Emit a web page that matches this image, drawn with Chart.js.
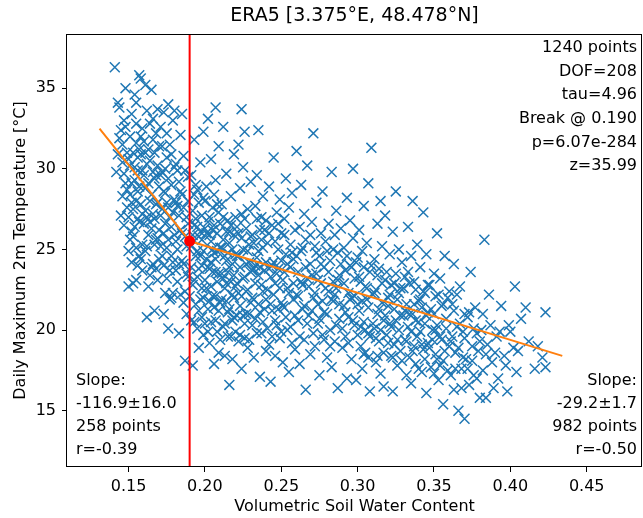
<!DOCTYPE html>
<html>
<head>
<meta charset="utf-8">
<script src="https://cdn.jsdelivr.net/npm/chart.js@4.4.1/dist/chart.umd.min.js"></script>
<style>
  html, body { margin: 0; padding: 0; background: #fff; }
  #wrap { width: 643px; height: 518px; }
</style>
</head>
<body>
<div id="wrap"><canvas id="chart" width="643" height="518"></canvas></div>
<script>
// ── Data ─────────────────────────────────────────────────────────────
// [soil water content, daily max temperature]
const samples = [
  [0.141,36.3],[0.143,34.1],[0.144,31.9],[0.146,30.4],[0.147,33.0],[0.148,29.1],[0.149,27.6],[0.145,32.4],[0.148,35.0],[0.149,31.0],
  [0.142,29.8],[0.147,26.5],[0.150,24.9],[0.146,28.3],[0.144,33.8],
  [0.151,30.2],[0.152,27.9],[0.152,33.4],[0.153,25.8],[0.154,29.3],[0.155,31.6],[0.155,23.1],[0.156,28.6],[0.157,35.8],[0.157,26.7],
  [0.158,30.9],[0.158,24.4],[0.159,32.5],[0.159,27.2],[0.153,22.9],[0.154,34.6],[0.156,29.9],[0.157,31.2],[0.151,28.4],[0.158,35.6],
  [0.159,25.3],[0.160,29.6],[0.152,26.1],[0.155,32.8],[0.156,24.0],
  [0.161,31.0],[0.161,27.4],[0.162,33.6],[0.162,25.2],[0.163,29.1],[0.163,22.7],[0.164,30.5],[0.164,28.0],[0.165,34.9],[0.165,26.3],
  [0.166,31.8],[0.166,24.1],[0.167,29.4],[0.167,21.2],[0.168,27.8],[0.168,32.2],[0.169,25.7],[0.169,30.2],[0.170,28.9],[0.162,20.8],
  [0.164,23.4],[0.166,33.1],[0.167,26.9],[0.168,23.8],[0.170,31.4],
  [0.171,27.1],[0.171,32.6],[0.172,24.6],[0.172,29.8],[0.173,26.0],[0.173,33.5],[0.174,22.3],[0.174,28.5],[0.175,30.7],[0.175,25.1],
  [0.176,27.6],[0.176,20.1],[0.177,31.5],[0.177,23.7],[0.178,29.0],[0.178,26.4],[0.179,24.2],[0.179,33.0],[0.180,28.1],[0.173,21.0],
  [0.176,34.0],[0.178,22.0],
  [0.181,30.3],[0.181,25.5],[0.182,27.7],[0.182,23.0],[0.183,29.2],[0.183,19.8],[0.184,26.2],[0.184,32.1],[0.185,24.3],[0.185,28.4],
  [0.186,21.7],[0.186,30.8],[0.187,25.8],[0.187,18.1],[0.188,27.0],[0.188,23.5],[0.189,29.5],[0.189,26.6],[0.185,33.4],[0.187,22.4],
  [0.143,30.9],[0.145,27.1],[0.146,31.5],[0.147,29.7],[0.148,32.6],[0.149,28.7],[0.150,30.6],[0.150,27.0],[0.151,25.6],[0.151,32.0],
  [0.152,29.1],[0.152,24.2],[0.153,31.0],[0.153,27.5],[0.154,26.4],[0.154,30.1],[0.155,28.0],[0.155,25.1],[0.156,30.7],[0.156,26.9],
  [0.157,28.9],[0.157,24.6],[0.158,32.0],[0.158,27.8],[0.159,29.9],[0.159,23.7],[0.160,26.6],[0.160,31.7],[0.161,28.8],[0.161,24.9],
  [0.162,30.3],[0.162,27.0],[0.163,25.9],[0.163,31.2],[0.164,26.7],[0.164,32.8],[0.165,28.4],[0.165,23.9],[0.166,27.2],[0.166,29.8],
  [0.167,25.3],[0.167,31.0],[0.168,29.6],[0.168,25.6],[0.169,27.9],[0.169,23.1],[0.170,26.2],[0.170,24.4],[0.171,29.6],[0.171,25.2],
  [0.172,27.5],[0.172,31.4],[0.173,28.6],[0.173,24.0],[0.174,26.6],[0.174,30.0],[0.175,23.2],[0.175,27.9],[0.176,25.6],[0.176,29.4],
  [0.177,27.0],[0.177,21.9],[0.178,24.6],[0.178,30.9],[0.179,27.3],[0.179,22.3],[0.180,25.9],[0.180,30.1],[0.181,23.7],[0.181,27.9],
  [0.182,25.0],[0.182,29.9],[0.183,24.1],[0.183,27.1],[0.184,22.2],[0.184,28.6],[0.185,26.0],[0.186,24.1],[0.186,27.6],[0.187,29.9],
  [0.188,21.0],[0.188,25.2],[0.189,23.3],[0.189,28.0],[0.155,34.1],[0.161,35.2],[0.169,33.7],[0.175,32.2],[0.180,33.6],[0.150,22.7],
  [0.191,25.2],[0.191,29.6],[0.192,22.8],[0.192,27.4],[0.193,31.8],[0.193,20.5],[0.194,24.6],[0.194,26.9],[0.195,23.3],[0.195,28.7],
  [0.196,18.9],[0.196,25.8],[0.197,30.4],[0.197,21.9],[0.198,27.1],[0.198,24.0],[0.199,32.3],[0.199,19.7],[0.200,26.3],[0.200,23.1],
  [0.192,17.8],[0.194,29.0],[0.196,21.2],[0.197,26.1],[0.198,22.6],[0.199,28.2],[0.195,24.9],[0.193,26.5],
  [0.190,22.1],[0.191,23.9],[0.191,20.6],[0.192,25.9],[0.193,23.1],[0.193,28.4],[0.194,21.6],[0.195,26.4],[0.195,20.1],[0.196,23.8],
  [0.196,27.9],[0.197,24.6],[0.198,20.8],[0.198,25.6],[0.199,22.0],[0.199,24.9],[0.200,20.4],[0.200,28.0],
  [0.201,24.4],[0.201,28.9],[0.202,21.3],[0.202,26.7],[0.203,19.2],[0.203,23.8],[0.204,30.6],[0.204,25.5],[0.205,22.1],[0.205,27.6],
  [0.206,17.9],[0.206,24.8],[0.207,29.3],[0.207,20.6],[0.208,26.0],[0.208,23.0],[0.209,31.4],[0.209,18.6],[0.210,25.1],[0.210,21.7],
  [0.202,33.1],[0.204,22.7],[0.205,26.2],[0.206,28.4],[0.207,23.6],[0.208,19.9],[0.209,27.3],[0.203,25.9],[0.207,33.8],
  [0.201,22.6],[0.201,26.0],[0.202,23.9],[0.202,19.9],[0.203,27.0],[0.203,21.8],[0.204,24.2],[0.204,20.5],[0.205,25.0],[0.205,23.6],
  [0.206,21.4],[0.206,26.5],[0.207,24.4],[0.207,22.1],[0.208,27.8],[0.208,24.9],[0.209,21.2],[0.209,23.5],[0.210,26.6],[0.210,19.4],
  [0.211,23.5],[0.211,27.8],[0.212,20.2],[0.212,25.6],[0.213,18.4],[0.213,22.6],[0.214,29.7],[0.214,24.3],[0.215,21.1],[0.215,26.8],
  [0.216,16.6],[0.216,23.9],[0.217,28.3],[0.217,19.6],[0.218,25.0],[0.218,22.2],[0.219,30.9],[0.219,20.8],[0.220,24.7],[0.220,27.0],
  [0.212,32.6],[0.214,21.8],[0.216,26.1],[0.218,18.2],[0.219,23.4],[0.215,24.8],
  [0.211,21.9],[0.211,25.1],[0.212,23.2],[0.212,27.0],[0.213,24.6],[0.213,20.4],[0.214,26.1],[0.214,22.9],[0.215,19.6],[0.215,23.6],
  [0.216,25.4],[0.216,21.3],[0.217,23.0],[0.217,26.5],[0.218,20.6],[0.218,24.1],[0.219,22.0],[0.219,25.9],[0.220,19.9],[0.220,22.7],
  [0.221,22.9],[0.221,26.4],[0.222,19.3],[0.222,24.6],[0.223,28.8],[0.223,21.5],[0.224,25.7],[0.224,17.6],[0.225,23.2],[0.225,30.1],
  [0.226,20.4],[0.226,26.9],[0.227,22.4],[0.227,24.1],[0.228,18.9],[0.228,27.5],[0.229,21.0],[0.229,25.3],[0.230,23.6],[0.230,29.2],
  [0.224,33.7],[0.226,19.5],[0.228,24.9],[0.222,31.5],[0.226,32.3],
  [0.221,24.6],[0.221,20.9],[0.222,26.0],[0.222,22.3],[0.223,23.9],[0.223,19.7],[0.224,22.1],[0.224,27.2],[0.225,25.0],[0.225,20.9],
  [0.226,23.3],[0.227,21.0],[0.227,26.3],[0.228,22.5],[0.229,24.2],[0.229,19.4],[0.230,21.7],[0.230,25.8],
  [0.231,22.0],[0.231,25.9],[0.232,18.3],[0.232,23.8],[0.233,27.7],[0.233,20.7],[0.234,24.5],[0.234,29.6],[0.235,21.6],[0.235,32.4],
  [0.236,17.1],[0.236,26.2],[0.237,22.8],[0.237,19.8],[0.238,25.1],[0.238,28.3],[0.239,21.3],[0.239,23.7],[0.240,26.8],[0.240,18.7],
  [0.233,24.0],[0.237,27.0],
  [0.231,23.7],[0.231,20.3],[0.232,25.4],[0.232,21.9],[0.233,22.9],[0.234,19.8],[0.234,26.9],[0.235,23.4],[0.235,24.9],[0.236,21.1],
  [0.236,23.9],[0.237,25.6],[0.238,20.5],[0.238,22.4],[0.239,26.2],[0.240,21.9],[0.240,24.2],
  [0.241,22.5],[0.241,25.4],[0.242,19.1],[0.242,28.9],[0.243,23.3],[0.243,16.8],[0.244,26.5],[0.244,21.2],[0.245,24.2],[0.245,30.7],
  [0.246,18.4],[0.246,22.9],[0.247,27.3],[0.247,20.3],[0.248,25.0],[0.248,23.8],[0.249,19.5],[0.249,28.1],[0.250,21.7],[0.250,26.0],
  [0.241,20.1],[0.242,23.8],[0.242,26.0],[0.243,21.6],[0.244,24.0],[0.244,19.6],[0.245,22.2],[0.246,25.5],[0.246,20.6],[0.247,23.5],
  [0.248,21.3],[0.248,26.6],[0.249,22.6],[0.250,24.3],[0.250,19.9],
  [0.251,23.1],[0.251,18.0],[0.252,26.9],[0.252,21.4],[0.253,24.7],[0.253,29.4],[0.254,20.0],[0.254,22.6],[0.255,27.6],[0.255,17.4],
  [0.256,25.3],[0.256,23.9],[0.257,19.2],[0.257,28.5],[0.258,21.9],[0.258,24.4],[0.259,26.2],[0.259,18.8],[0.260,22.2],[0.260,31.1],
  [0.251,21.5],[0.252,23.6],[0.252,25.9],[0.253,20.8],[0.254,24.1],[0.255,22.3],[0.256,20.2],[0.257,24.8],[0.258,22.9],[0.259,20.9],
  [0.260,24.6],
  [0.261,23.6],[0.261,20.6],[0.262,26.4],[0.262,17.9],[0.263,24.9],[0.263,29.0],[0.264,21.3],[0.264,22.8],[0.265,27.2],[0.265,19.4],
  [0.266,25.6],[0.266,16.3],[0.267,23.2],[0.267,30.2],[0.268,20.9],[0.269,24.1],[0.269,18.5],[0.270,26.7],
  [0.261,22.1],[0.262,19.6],[0.263,23.0],[0.264,25.1],[0.265,21.5],[0.266,23.9],[0.267,20.4],[0.268,22.7],[0.269,25.9],[0.270,21.2],
  [0.270,23.4],
  [0.271,22.0],[0.271,32.2],[0.272,25.2],[0.272,19.0],[0.273,23.5],[0.273,27.9],[0.274,20.4],[0.274,21.6],[0.275,24.6],[0.275,17.2],
  [0.276,26.0],[0.276,22.9],[0.277,19.7],[0.277,28.6],[0.278,23.9],[0.278,21.1],[0.279,25.5],[0.280,18.3],
  [0.271,19.8],[0.272,22.3],[0.273,24.8],[0.274,23.1],[0.275,20.7],[0.276,24.1],[0.277,21.8],[0.278,19.4],[0.279,22.6],[0.280,24.9],
  [0.280,21.0],
  [0.281,22.4],[0.281,26.6],[0.282,20.0],[0.282,24.3],[0.283,17.7],[0.283,29.8],[0.284,23.0],[0.284,21.8],[0.285,25.9],[0.285,19.3],
  [0.286,27.4],[0.286,22.6],[0.287,16.4],[0.287,24.8],[0.288,20.7],[0.288,23.4],[0.289,26.3],[0.290,18.9],
  [0.281,23.6],[0.282,19.0],[0.283,21.9],[0.284,25.0],[0.285,22.2],[0.286,20.3],[0.287,23.1],[0.288,21.6],[0.289,24.1],[0.290,20.1],
  [0.291,21.5],[0.291,25.1],[0.292,19.6],[0.292,23.7],[0.293,28.2],[0.293,17.0],[0.294,22.3],[0.294,20.8],[0.295,26.8],[0.295,24.0],
  [0.296,18.2],[0.296,22.0],[0.297,25.7],[0.297,30.0],[0.298,20.3],[0.298,23.2],[0.299,16.9],[0.300,24.5],
  [0.291,22.9],[0.292,21.1],[0.293,24.6],[0.294,19.2],[0.295,21.9],[0.296,23.9],[0.297,20.6],[0.298,22.1],[0.299,24.2],[0.300,19.7],
  [0.300,21.6],
  [0.301,21.2],[0.301,26.2],[0.302,19.0],[0.302,23.0],[0.303,24.9],[0.303,17.6],[0.304,27.7],[0.304,20.5],[0.305,22.7],[0.305,18.6],
  [0.306,25.4],[0.306,21.9],[0.307,29.1],[0.307,19.8],[0.308,23.6],[0.308,16.2],[0.309,31.3],[0.310,22.2],
  [0.301,23.3],[0.302,20.2],[0.303,21.8],[0.304,18.5],[0.304,23.9],[0.305,20.0],[0.306,22.6],[0.307,18.3],[0.307,21.4],[0.308,19.6],
  [0.309,24.0],[0.310,20.4],
  [0.311,20.1],[0.311,24.4],[0.312,18.0],[0.312,22.5],[0.313,26.6],[0.313,21.0],[0.314,19.3],[0.314,23.8],[0.315,28.0],[0.315,17.3],
  [0.316,21.7],[0.316,25.2],[0.317,20.6],[0.317,16.5],[0.318,23.1],[0.318,27.1],[0.319,19.7],[0.320,22.0],
  [0.311,22.3],[0.312,19.5],[0.313,23.4],[0.313,18.4],[0.314,21.3],[0.315,20.0],[0.316,22.9],[0.317,18.6],[0.318,20.9],[0.319,23.6],
  [0.320,19.2],[0.320,21.5],
  [0.321,20.4],[0.321,24.7],[0.322,18.4],[0.322,22.8],[0.323,26.1],[0.323,16.2],[0.324,21.3],[0.324,19.1],[0.325,23.5],[0.325,28.6],
  [0.326,17.8],[0.326,21.9],[0.327,25.0],[0.327,20.0],[0.328,22.6],[0.328,18.7],[0.329,24.2],[0.330,20.9],
  [0.321,22.2],[0.322,20.2],[0.323,18.3],[0.324,22.9],[0.325,20.6],[0.326,19.4],[0.327,22.3],[0.328,20.9],[0.329,18.1],[0.330,22.6],
  [0.331,19.4],[0.331,23.3],[0.332,17.2],[0.332,21.6],[0.333,26.4],[0.333,20.2],[0.334,22.9],[0.334,18.3],[0.335,24.6],[0.335,16.7],
  [0.336,21.0],[0.336,28.0],[0.337,19.0],[0.337,23.0],[0.338,20.6],[0.338,17.9],[0.339,25.3],[0.340,21.8],
  [0.331,21.2],[0.332,19.3],[0.333,23.6],[0.334,21.0],[0.335,19.9],[0.336,18.7],[0.337,21.6],[0.338,22.5],[0.339,19.6],[0.340,17.6],
  [0.340,20.5],
  [0.341,19.9],[0.341,23.9],[0.342,17.4],[0.342,21.4],[0.343,27.3],[0.343,18.8],[0.344,22.3],[0.344,20.4],[0.345,16.1],[0.345,24.7],
  [0.346,19.2],[0.346,21.1],[0.347,22.8],[0.348,17.7],[0.349,20.0],[0.350,23.5],
  [0.341,21.9],[0.342,19.1],[0.343,22.4],[0.344,18.2],[0.345,20.9],[0.346,22.8],[0.347,18.9],[0.348,21.3],[0.349,19.4],[0.350,17.3],
  [0.350,21.0],
  [0.351,18.5],[0.351,22.1],[0.352,20.3],[0.352,26.0],[0.353,16.9],[0.354,19.6],[0.354,23.2],[0.355,21.5],[0.356,15.4],[0.356,18.1],
  [0.357,24.6],[0.358,20.7],[0.359,17.5],[0.360,22.4],
  [0.351,20.0],[0.352,18.2],[0.353,22.2],[0.354,17.8],[0.355,19.4],[0.356,21.6],[0.357,18.7],[0.358,20.1],[0.359,22.0],[0.360,19.0],
  [0.361,19.3],[0.362,21.6],[0.363,16.3],[0.363,24.1],[0.364,18.6],[0.365,20.2],[0.366,15.0],[0.367,22.7],[0.368,17.6],[0.369,19.9],
  [0.370,14.5],[0.370,21.0],
  [0.361,17.2],[0.362,19.6],[0.363,21.2],[0.364,17.6],[0.365,22.2],[0.366,18.9],[0.367,20.4],[0.368,16.4],[0.369,18.3],[0.370,19.5],
  [0.371,18.2],[0.372,20.8],[0.373,16.6],[0.374,23.6],[0.375,19.0],[0.376,17.2],[0.377,21.4],[0.378,19.8],[0.379,18.7],[0.380,15.8],
  [0.372,17.6],[0.373,21.1],[0.375,18.1],[0.376,20.1],[0.378,17.0],[0.380,19.3],
  [0.381,20.0],[0.382,17.5],[0.383,25.6],[0.384,15.8],[0.385,19.1],[0.386,22.2],[0.388,18.0],[0.389,16.4],
  [0.382,21.0],[0.384,18.5],[0.387,20.3],
  [0.391,19.6],[0.392,17.0],[0.394,21.5],[0.396,18.4],[0.398,16.2],[0.399,20.3],
  [0.390,18.6],[0.393,19.9],[0.397,17.8],
  [0.402,18.9],[0.404,17.4],[0.407,20.7],[0.403,22.7],[0.412,19.3],[0.416,17.6],[0.423,21.1],[0.423,17.7],
  [0.400,19.9],[0.405,18.7],[0.410,21.4],[0.418,19.0],[0.421,18.3]
];

// piecewise fit, breakpoint at 0.190
const fitX = [0.131, 0.190, 0.434];
const fitY = [32.5, 25.52, 18.4];
const breakX = 0.190;
const breakY = 25.52;

const xTicks = [0.15, 0.20, 0.25, 0.30, 0.35, 0.40, 0.45];
const yTicks = [15, 20, 25, 30, 35];
const xRange = [0.1097, 0.4862];
const yRange = [11.51, 38.36];

const titleText = 'ERA5 [3.375°E, 48.478°N]';
const statsLines = ['1240 points', 'DOF=208', 'tau=4.96', 'Break @ 0.190', 'p=6.07e-284', 'z=35.99'];
const leftLines  = ['Slope:', '-116.9±16.0', '258 points', 'r=-0.39'];
const rightLines = ['Slope:', '-29.2±1.7', '982 points', 'r=-0.50'];

// ── Style ────────────────────────────────────────────────────────────
const FONT = '"DejaVu Sans", "Liberation Sans", sans-serif';
const BLUE = '#1f77b4', ORANGE = '#ff7f0e', RED = '#ff0000';

// frame, title and the text notes
const notesPlugin = {
  id: 'notes',
  afterDraw(chart) {
    const { ctx, chartArea: a } = chart;
    ctx.save();
    ctx.strokeStyle = '#000';
    ctx.lineWidth = 1;
    ctx.strokeRect(Math.round(a.left) - 0.5, Math.round(a.top) + 0.5,
                   Math.round(a.right - a.left), Math.round(a.bottom - a.top) - 1);

    ctx.fillStyle = '#000';
    ctx.textBaseline = 'middle';
    ctx.font = '19px ' + FONT;
    ctx.textAlign = 'center';
    ctx.fillText(titleText, (a.left + a.right) / 2, 16);

    ctx.font = '16px ' + FONT;
    ctx.textAlign = 'right';
    statsLines.forEach((t, i) => ctx.fillText(t, a.right - 5, a.top + 14 + i * 23.6));
    rightLines.forEach((t, i) => ctx.fillText(t, a.right - 5, a.bottom - 86 + i * 23));
    ctx.textAlign = 'left';
    leftLines.forEach((t, i) => ctx.fillText(t, a.left + 9, a.bottom - 86 + i * 23));
    ctx.restore();
  }
};

const tickFont = { family: FONT, size: 16 };

new Chart(document.getElementById('chart'), {
  type: 'scatter',
  data: {
    datasets: [
      { label: 'break', data: [{ x: breakX, y: breakY }],
        pointRadius: 5.5, pointBackgroundColor: RED, pointBorderWidth: 0, order: 1 },
      { label: 'fit', data: fitX.map((x, i) => ({ x, y: fitY[i] })),
        showLine: true, borderColor: ORANGE, borderWidth: 2, pointRadius: 0, order: 2 },
      { label: 'breakline', data: [{ x: breakX, y: yRange[0] }, { x: breakX, y: yRange[1] }],
        showLine: true, borderColor: RED, borderWidth: 2, pointRadius: 0, order: 3 },
      { label: 'samples', data: samples.map(([x, y]) => ({ x, y })),
        pointStyle: 'crossRot', pointRadius: 7, pointBorderWidth: 1.5,
        borderColor: BLUE, backgroundColor: BLUE, order: 4 },
    ]
  },
  options: {
    responsive: false,
    animation: false,
    events: [],
    layout: { autoPadding: false, padding: { top: 34, right: 1, left: 0, bottom: 0 } },
    plugins: { legend: { display: false }, tooltip: { enabled: false }, title: { display: false } },
    scales: {
      x: {
        type: 'linear', min: xRange[0], max: xRange[1],
        afterBuildTicks: s => { s.ticks = xTicks.map(v => ({ value: v })); },
        afterFit: s => { s.height = 51; s.paddingLeft = 0; s.paddingRight = 0; },
        ticks: { callback: v => v.toFixed(2), font: tickFont, color: '#000', padding: 5, maxRotation: 0, autoSkip: false },
        grid: { drawOnChartArea: false, drawTicks: true, tickLength: 5, color: '#000' },
        border: { display: false },
        title: { display: true, text: 'Volumetric Soil Water Content', font: tickFont, color: '#000',
                 padding: { top: 0, bottom: 2 } }
      },
      y: {
        type: 'linear', min: yRange[0], max: yRange[1],
        afterBuildTicks: s => { s.ticks = yTicks.map(v => ({ value: v })); },
        afterFit: s => { s.width = 67; s.paddingTop = 0; s.paddingBottom = 0; },
        ticks: { font: tickFont, color: '#000', padding: 6 },
        grid: { drawOnChartArea: false, drawTicks: true, tickLength: 5, color: '#000' },
        border: { display: false },
        title: { display: true, text: 'Daily Maximum 2m Temperature [°C]', font: tickFont, color: '#000',
                 padding: { top: 11, bottom: 0 } }
      }
    }
  },
  plugins: [notesPlugin]
});
</script>
</body>
</html>
